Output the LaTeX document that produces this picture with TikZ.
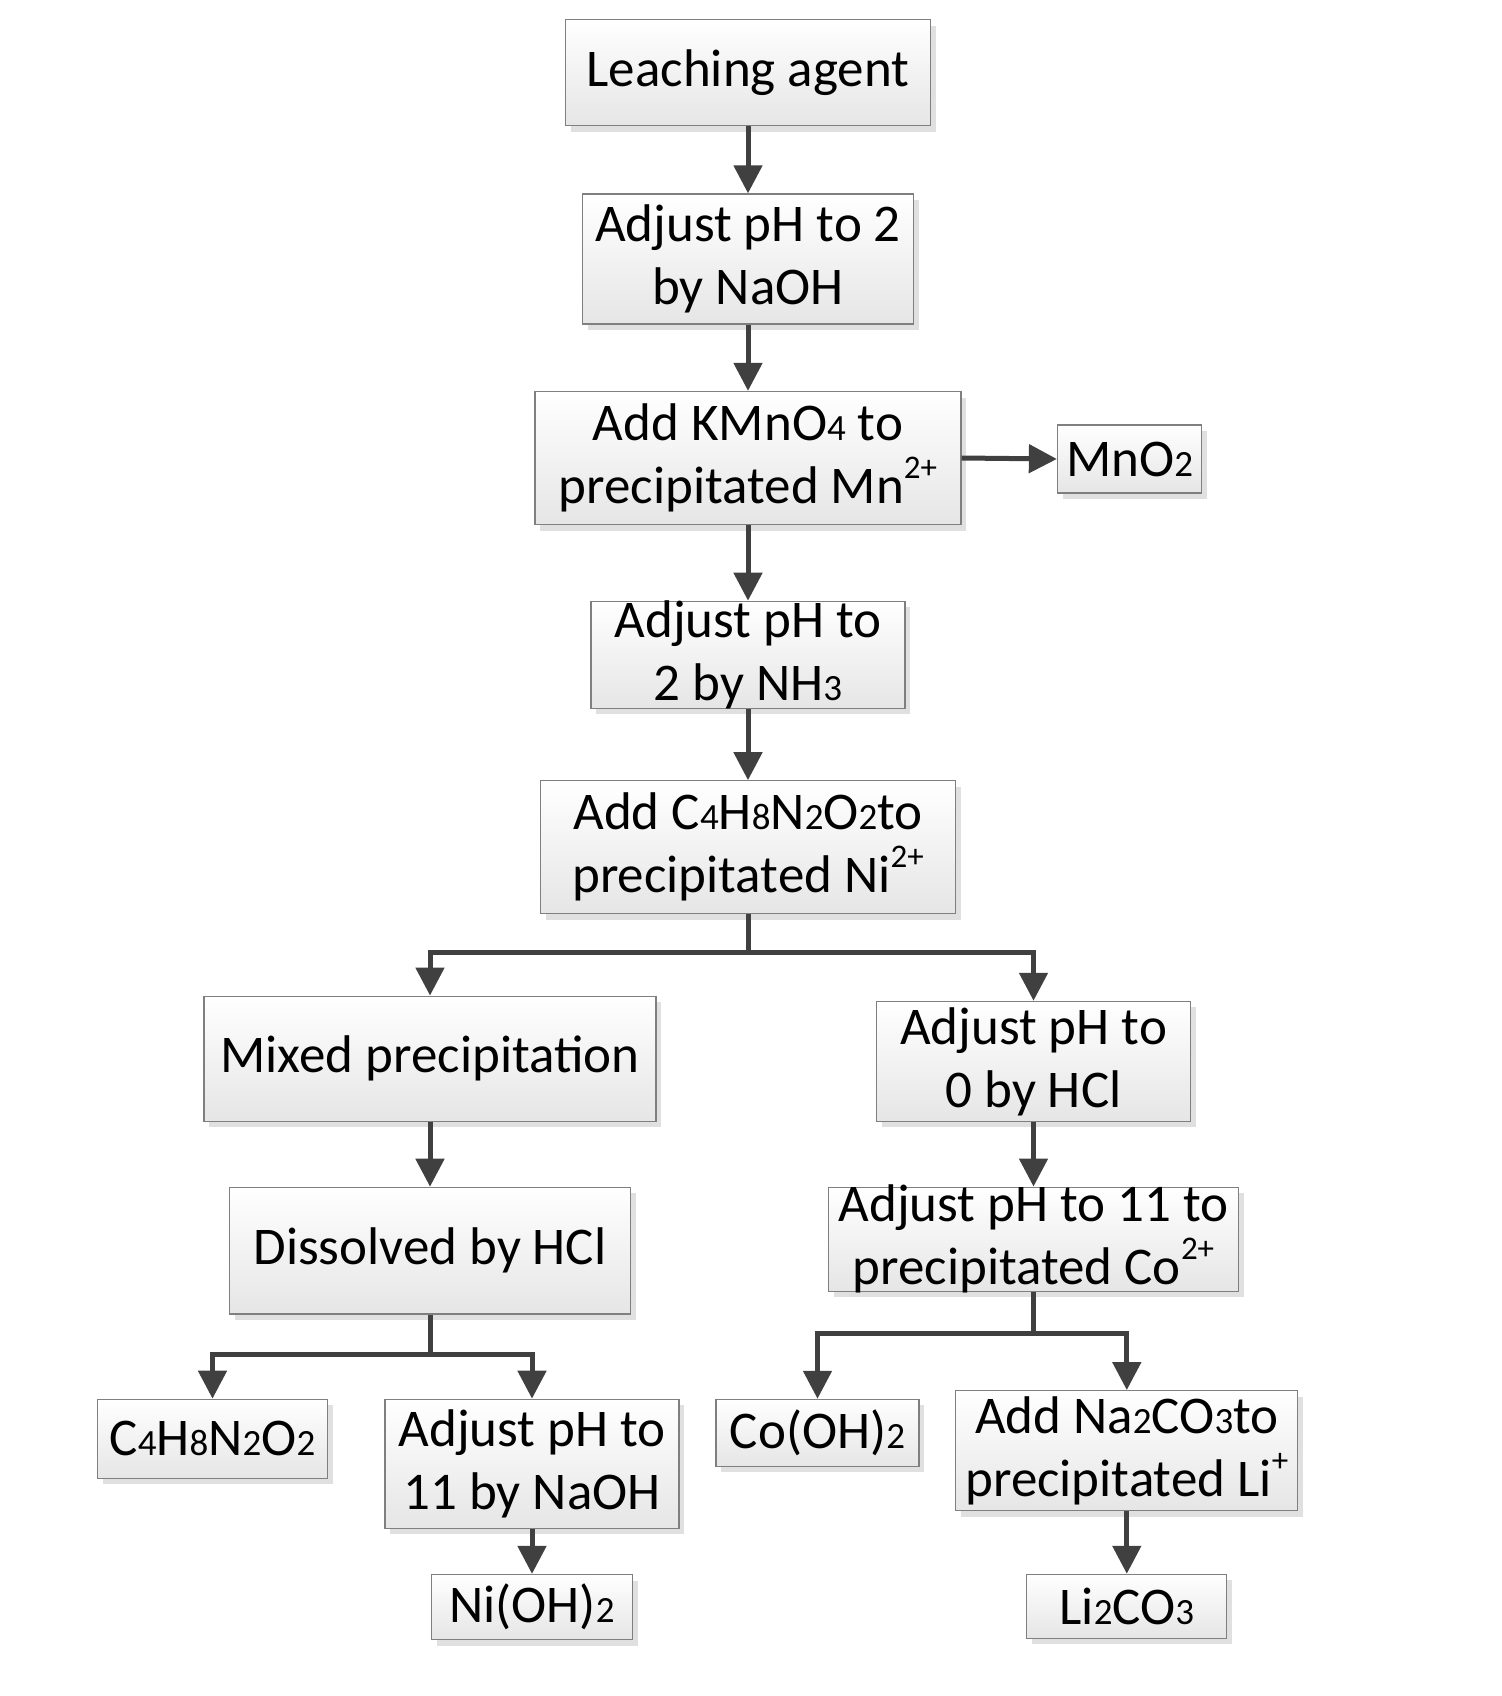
\documentclass[tikz,border=0pt]{standalone}
\usepackage{fontspec}
\setmainfont{Carlito}
\usetikzlibrary{arrows.meta,shadows}
\definecolor{arrowc}{HTML}{404040}
\definecolor{boxline}{HTML}{7F7F7F}
\newcommand{\sbs}[1]{{\fontsize{37}{37}\selectfont #1}}
\newcommand{\sps}[1]{\smash{\raisebox{25pt}{\fontsize{33}{33}\selectfont #1}}}
\begin{document}
\begin{tikzpicture}[x=1pt,y=-1pt,
  box/.style={draw=boxline, line width=1.3pt, top color=white, bottom color=black!10,
    inner sep=0pt, align=center, font=\fontsize{53}{63}\selectfont,
    drop shadow={shadow xshift=5pt,shadow yshift=-6pt,fill=black!30,opacity=0.4}},
  arr/.style={draw=arrowc, line width=5pt, -{Triangle[length=28pt,width=28pt]}, line join=miter}]
\useasboundingbox (0,0) rectangle (1501,1696);
\node[box, minimum width=365pt, minimum height=106pt] (n1) at (748,72.7) {Leaching agent};
\node[box, minimum width=331pt, minimum height=130pt] (n2) at (748,259) {Adjust pH to 2\\by NaOH};
\node[box, minimum width=426pt, minimum height=133pt] (n3) at (748,458) {Add KMnO\sbs{4} to\\precipitated Mn\sps{2+}};
\node[box, minimum width=144pt, minimum height=68pt] (n4) at (1129.5,459) {MnO\sbs{2}};
\node[box, minimum width=314pt, minimum height=107pt, inner ysep=-6pt] (n5) at (748,654.8) {Adjust pH to\\2 by NH\sbs{3}};
\node[box, minimum width=415pt, minimum height=133pt] (n6) at (748,847.3) {Add C\sbs{4}H\sbs{8}N\sbs{2}O\sbs{2}to\\precipitated Ni\sps{2+}};
\node[box, minimum width=452pt, minimum height=125pt] (n7) at (430,1058.7) {Mixed precipitation};
\node[box, minimum width=314pt, minimum height=120pt] (n8) at (1033.5,1061.4) {Adjust pH to\\0 by HCl};
\node[box, minimum width=401pt, minimum height=126.5pt] (n9) at (430,1250.6) {Dissolved by HCl};
\node[box, minimum width=410pt, minimum height=104pt, inner ysep=-8pt] (n10) at (1033.5,1239.2) {Adjust pH to 11 to\\precipitated Co\sps{2+}};
\node[box, minimum width=230pt, minimum height=79pt] (n11) at (212.5,1438.8) {C\sbs{4}H\sbs{8}N\sbs{2}O\sbs{2}};
\node[box, minimum width=294pt, minimum height=129pt] (n12) at (532,1463.8) {Adjust pH to\\11 by NaOH};
\node[box, minimum width=201pt, minimum height=65pt] (n13) at (532,1607) {Ni(OH)\sbs{2}};
\node[box, minimum width=203pt, minimum height=67pt] (n14) at (817.5,1432.9) {Co(OH)\sbs{2}};
\node[box, minimum width=342pt, minimum height=120pt] (n15) at (1126.8,1450.7) {Add Na\sbs{2}CO\sbs{3}to\\precipitated Li\sps{+}};
\node[box, minimum width=200pt, minimum height=64pt] (n16) at (1126.8,1606.4) {Li\sbs{2}CO\sbs{3}};
\coordinate (j1) at (748,952.7);
\coordinate (j2) at (430,1354);
\coordinate (j3) at (1033.5,1333.4);
\draw[arr] (n1.south) -- (n2.north);
\draw[arr] (n2.south) -- (n3.north);
\draw[arr] (n3.east) -- (n4.west);
\draw[arr] (n3.south) -- (n5.north);
\draw[arr] (n5.south) -- (n6.north);
\draw[arr] (n6.south) -- (j1) -| (n7.north);
\draw[arr] (j1) -| (n8.north);
\draw[arr] (n7.south) -- (n9.north);
\draw[arr] (n8.south) -- (n10.north);
\draw[arr] (n9.south) -- (j2) -| (n11.north);
\draw[arr] (j2) -| (n12.north);
\draw[arr] (n12.south) -- (n13.north);
\draw[arr] (n10.south) -- (j3) -| (n14.north);
\draw[arr] (j3) -| (n15.north);
\draw[arr] (n15.south) -- (n16.north);
\end{tikzpicture}
\end{document}
